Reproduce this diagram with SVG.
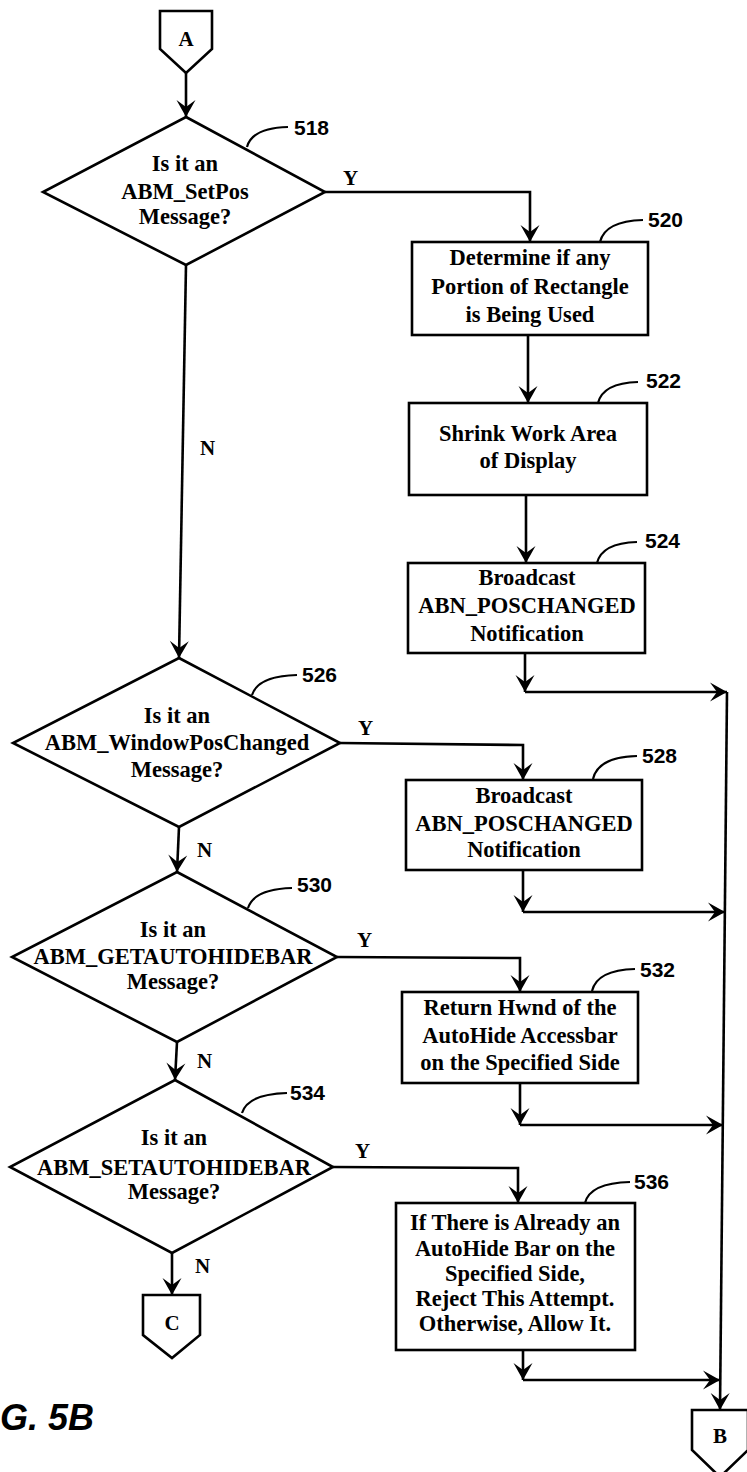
<svg xmlns="http://www.w3.org/2000/svg" width="747" height="1472" viewBox="0 0 747 1472">
<defs>
<marker id="ah" viewBox="-18 -11 20 22" refX="0" refY="0" markerWidth="20" markerHeight="22" markerUnits="userSpaceOnUse" orient="auto">
<path d="M0,0 L-17,-9.5 L-10,0 L-17,9.5 Z" fill="#000"/>
</marker>
</defs>
<style>
.shape{fill:#fff;stroke:#000;stroke-width:2.6;stroke-linejoin:miter}
.ln{fill:none;stroke:#000;stroke-width:2.6}
.ar{fill:none;stroke:#000;stroke-width:2.6;marker-end:url(#ah)}
.ld{fill:none;stroke:#000;stroke-width:2.2}
.t{font-family:"Liberation Serif","Times New Roman",serif;font-weight:bold;font-size:22.5px;text-anchor:middle;fill:#000}
.yn{font-family:"Liberation Serif","Times New Roman",serif;font-weight:bold;font-size:21px;fill:#000}
.num{font-family:"Liberation Sans",Arial,sans-serif;font-weight:bold;font-size:21px;fill:#000}
.cn{font-family:"Liberation Serif","Times New Roman",serif;font-weight:bold;font-size:21px;text-anchor:middle;fill:#000}
.fig{font-family:"Liberation Sans",Arial,sans-serif;font-weight:bold;font-style:italic;font-size:36px;fill:#000}
</style>
<rect width="747" height="1472" fill="#fff"/>

<g id="connectors">
<path class="ar" d="M186,73 L186,117"/>
<path class="ar" d="M325,192 L530,192 L530,242"/>
<path class="ar" d="M528,335 L528,403"/>
<path class="ar" d="M526,495 L526,563"/>
<path class="ar" d="M525,653 L525,692"/>
<path class="ar" d="M525,692 L727,692"/>
<path class="ar" d="M186,265 L179,658"/>
<path class="ar" d="M340,743 L523,745 L523,780"/>
<path class="ar" d="M523,870 L523,912"/>
<path class="ar" d="M523,912 L725,912"/>
<path class="ar" d="M179,827 L177,872"/>
<path class="ar" d="M337,957 L520,958 L520,992"/>
<path class="ar" d="M520,1083 L520,1125"/>
<path class="ar" d="M520,1125 L723,1125"/>
<path class="ar" d="M177,1042 L175,1080"/>
<path class="ar" d="M333,1167 L518,1168 L518,1203"/>
<path class="ar" d="M523,1350 L523,1380"/>
<path class="ar" d="M523,1380 L720,1380"/>
<path class="ar" d="M172,1253 L172,1295"/>
<path class="ar" d="M727,692 L720,1410"/>
<text class="yn" x="343" y="185">Y</text>
<text class="yn" x="200" y="455">N</text>
<text class="yn" x="358" y="735">Y</text>
<text class="yn" x="197" y="857">N</text>
<text class="yn" x="357" y="947">Y</text>
<text class="yn" x="197" y="1068">N</text>
<text class="yn" x="355" y="1158">Y</text>
<text class="yn" x="195" y="1273">N</text>
</g>

<g id="connA">
<polygon class="shape" points="160,11 212,11 212,49 186,73 160,49"/>
<text class="cn" x="186" y="46">A</text>
</g>

<g id="n518">
<polygon class="shape" points="186,117 325,192 186,265 43,192"/>
<text class="t" x="185" y="171">Is it an</text>
<text class="t" x="185" y="199">ABM_SetPos</text>
<text class="t" x="185" y="224">Message?</text>
<path class="ld" d="M247,147 Q252,128 288,127"/>
<text class="num" x="294" y="135">518</text>
</g>

<g id="n520">
<rect class="shape" x="412" y="242" width="236" height="93"/>
<text class="t" x="530" y="265">Determine if any</text>
<text class="t" x="530" y="294">Portion of Rectangle</text>
<text class="t" x="530" y="322">is Being Used</text>
<path class="ld" d="M600,242 Q605,221 643,220"/>
<text class="num" x="648" y="227">520</text>
</g>

<g id="n522">
<rect class="shape" x="409" y="403" width="238" height="92"/>
<text class="t" x="528" y="441">Shrink Work Area</text>
<text class="t" x="528" y="468">of Display</text>
<path class="ld" d="M598,403 Q603,383 638,382"/>
<text class="num" x="646" y="388">522</text>
</g>

<g id="n524">
<rect class="shape" x="408" y="563" width="237" height="90"/>
<text class="t" x="527" y="585">Broadcast</text>
<text class="t" x="527" y="613">ABN_POSCHANGED</text>
<text class="t" x="527" y="641">Notification</text>
<path class="ld" d="M597,563 Q602,543 637,542"/>
<text class="num" x="645" y="548">524</text>
</g>

<g id="n526">
<polygon class="shape" points="179,658 340,743 179,827 13,743"/>
<text class="t" x="177" y="723">Is it an</text>
<text class="t" x="177" y="750">ABM_WindowPosChanged</text>
<text class="t" x="177" y="777">Message?</text>
<path class="ld" d="M252,695 Q258,676 297,675"/>
<text class="num" x="302" y="682">526</text>
</g>

<g id="n528">
<rect class="shape" x="406" y="780" width="236" height="90"/>
<text class="t" x="524" y="803">Broadcast</text>
<text class="t" x="524" y="831">ABN_POSCHANGED</text>
<text class="t" x="524" y="857">Notification</text>
<path class="ld" d="M593,779 Q598,757 637,756"/>
<text class="num" x="642" y="763">528</text>
</g>

<g id="n530">
<polygon class="shape" points="177,872 337,957 177,1042 12,957"/>
<text class="t" x="173" y="937">Is it an</text>
<text class="t" x="173" y="964">ABM_GETAUTOHIDEBAR</text>
<text class="t" x="173" y="989">Message?</text>
<path class="ld" d="M248,908 Q254,889 292,888"/>
<text class="num" x="297" y="892">530</text>
</g>

<g id="n532">
<rect class="shape" x="402" y="992" width="236" height="91"/>
<text class="t" x="520" y="1015">Return Hwnd of the</text>
<text class="t" x="520" y="1043">AutoHide Accessbar</text>
<text class="t" x="520" y="1070">on the Specified Side</text>
<path class="ld" d="M592,991 Q597,970 635,969"/>
<text class="num" x="640" y="977">532</text>
</g>

<g id="n534">
<polygon class="shape" points="175,1080 333,1167 172,1253 10,1167"/>
<text class="t" x="174" y="1145">Is it an</text>
<text class="t" x="174" y="1175">ABM_SETAUTOHIDEBAR</text>
<text class="t" x="174" y="1199">Message?</text>
<path class="ld" d="M242,1113 Q248,1094 287,1093"/>
<text class="num" x="290" y="1100">534</text>
</g>

<g id="n536">
<rect class="shape" x="396" y="1203" width="239" height="147"/>
<text class="t" x="515" y="1230">If There is Already an</text>
<text class="t" x="515" y="1256">AutoHide Bar on the</text>
<text class="t" x="515" y="1281">Specified Side,</text>
<text class="t" x="515" y="1306">Reject This Attempt.</text>
<text class="t" x="515" y="1331">Otherwise, Allow It.</text>
<path class="ld" d="M585,1203 Q590,1183 630,1182"/>
<text class="num" x="634" y="1189">536</text>
</g>

<g id="connC">
<polygon class="shape" points="143,1295 200,1295 200,1335 172,1358 143,1335"/>
<text class="cn" x="172" y="1330">C</text>
</g>

<g id="connB">
<polygon class="shape" points="692,1410 748,1410 748,1450 720,1477 692,1450"/>
<text class="cn" x="720" y="1443">B</text>
</g>

<g id="caption">
<text class="fig" x="0" y="1430">G. 5B</text>
</g>
</svg>
